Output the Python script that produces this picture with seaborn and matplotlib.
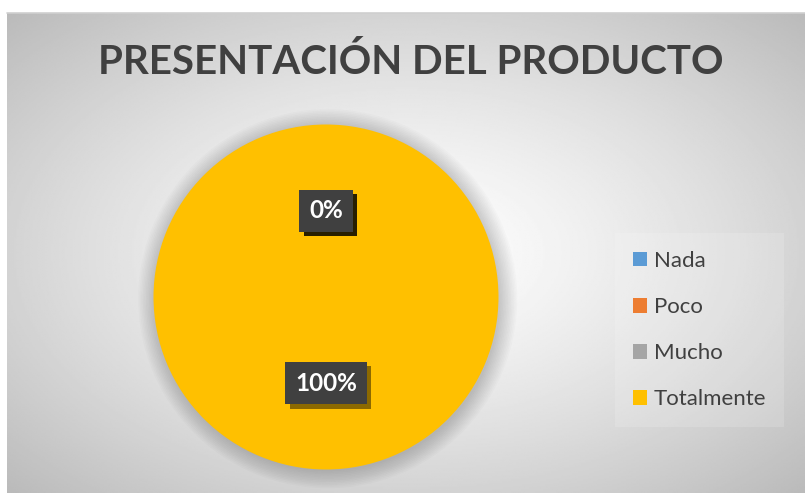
import matplotlib
matplotlib.use("Agg")
import matplotlib.pyplot as plt
import matplotlib.patheffects as pe
import seaborn as sns
import numpy as np

categories = ["Nada", "Poco", "Mucho", "Totalmente"]
values = [0, 0, 0, 100]
colors = ["#5B9BD5", "#ED7D31", "#A5A5A5", "#FFC000"]
title = "PRESENTACIÓN DEL PRODUCTO"

sns.set_style("white")
plt.rcParams["font.family"] = ["Lato", "DejaVu Sans"]

W, H = 805, 493
fig = plt.figure(figsize=(W / 100, H / 100), dpi=100)

# radial gradient background for the chart area
bg = fig.add_axes([7 / W, 0, 1 - 7 / W, (H - 13) / H])
yy, xx = np.mgrid[-1:1:300j, -1:1:500j]
r = np.sqrt(xx ** 2 + yy ** 2) / np.sqrt(2)
shade = 1.0 - 0.27 * np.clip(r, 0, 1) ** 1.3
bg.imshow(shade, cmap="gray", vmin=0, vmax=1, aspect="auto", extent=[0, 1, 0, 1])
bg.set_axis_off()
bg.plot([0, 1], [1, 1], color="#cfcfcf", lw=1.2, transform=bg.transAxes, clip_on=False)

# pie
cx, cy, rad = 326, 297, 172.5
ax = fig.add_axes([(cx - rad) / W, (H - cy - rad) / H, 2 * rad / W, 2 * rad / H])
for i in range(12):
    ax.add_patch(plt.Circle((0.01, -0.01), 1.0 + i * 0.009, color="black",
                            alpha=0.014, lw=0, zorder=0, clip_on=False))
wedges, texts, autotexts = ax.pie(
    values, colors=colors, startangle=90, counterclock=False,
    autopct="%1.0f%%", pctdistance=0.5,
    wedgeprops=dict(linewidth=0),
    textprops=dict(color="white", fontsize=17.5, fontweight="bold"),
)
for t in autotexts:
    t.set_bbox(dict(boxstyle="square,pad=0.4", fc="#404040", ec="none", lw=0))
    t.get_bbox_patch().set_path_effects(
        [pe.SimplePatchShadow(offset=(3, -3), shadow_rgbFace="black", alpha=0.45), pe.Normal()])
ax.set_xlim(-1, 1)
ax.set_ylim(-1, 1)
ax.set_aspect("equal")
ax.set_axis_off()

fig.text(411 / W, 1 - 62 / H, title, ha="center", va="center",
         fontsize=29, fontweight="bold", color="#404040")

leg = fig.legend(wedges, categories, loc="upper left",
                 bbox_to_anchor=(615 / W, 1 - 233 / H),
                 frameon=True, fancybox=False, fontsize=16,
                 handlelength=0.65, handleheight=0.65, handletextpad=0.3,
                 labelspacing=1.18, borderpad=0.8, borderaxespad=0)
leg.get_frame().set_facecolor("white")
leg.get_frame().set_alpha(0.15)
leg.get_frame().set_linewidth(0)
for t in leg.get_texts():
    t.set_color("#404040")

fig.savefig("out.png", dpi=100)
